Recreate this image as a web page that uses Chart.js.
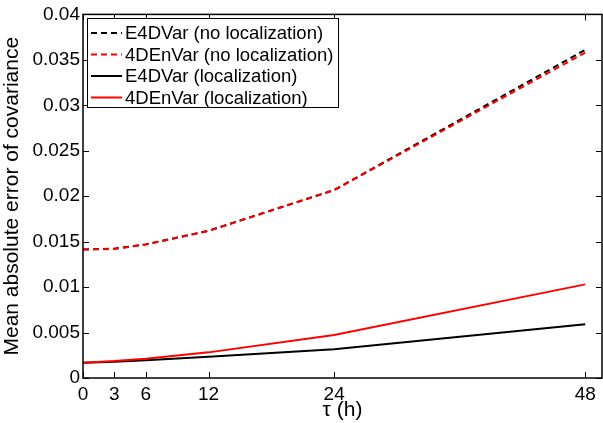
<!DOCTYPE html>
<html>
<head>
<meta charset="utf-8">
<script src="https://cdn.jsdelivr.net/npm/chart.js@4"></script>
<style>
  html, body { margin: 0; padding: 0; background: #fff; }
  #wrap { width: 603px; height: 423px; }
</style>
</head>
<body>
<div id="wrap"><canvas id="errChart" width="603" height="423"></canvas></div>
<script>
// lead times (h) and mean absolute error of covariance
const tau = [0, 3, 6, 12, 24, 48];
const xTicks = [0, 3, 6, 12, 24, 48];
const e4dvarNoLoc = [0.01415, 0.01422, 0.0147, 0.0162, 0.02068, 0.0361];
const enVarNoLoc = [0.01413, 0.0142, 0.01468, 0.01618, 0.02066, 0.0358];
const e4dvarLoc = [0.00168, 0.0018, 0.00194, 0.00234, 0.00315, 0.0059];
const enVarLoc = [0.00168, 0.00186, 0.00212, 0.00282, 0.00473, 0.0103];
const seriesNames = ['E4DVar (no localization)', '4DEnVar (no localization)', 'E4DVar (localization)', '4DEnVar (localization)'];

const FONT = "'Liberation Sans', Arial, sans-serif";

function pts(ys) {
    return tau.map((t, i) => ({ x: t, y: ys[i] }));
}

// MATLAB-like box with inward ticks + legend inside the plot
const boxPlugin = {
    id: 'boxPlugin',
    afterDraw(chart) {
        const ctx = chart.ctx;
        const a = chart.chartArea;
        const xs = chart.scales.x, ys = chart.scales.y;
        ctx.save();
        ctx.strokeStyle = '#000';
        ctx.lineWidth = 1.5;
        ctx.strokeRect(a.left, a.top, a.right - a.left, a.bottom - a.top);
        ctx.lineWidth = 1;
        ctx.beginPath();
        xTicks.forEach(v => {
            const px = Math.round(xs.getPixelForValue(v)) + 0.5;
            ctx.moveTo(px, a.bottom); ctx.lineTo(px, a.bottom - 6);
            ctx.moveTo(px, a.top); ctx.lineTo(px, a.top + 6);
        });
        ys.ticks.forEach(t => {
            const py = Math.round(ys.getPixelForValue(t.value)) + 0.5;
            ctx.moveTo(a.left, py); ctx.lineTo(a.left + 6, py);
            ctx.moveTo(a.right, py); ctx.lineTo(a.right - 6, py);
        });
        ctx.stroke();

        // legend
        const lx = 87, ly = 18, lw = 251, lh = 89;
        ctx.fillStyle = '#fff';
        ctx.fillRect(lx, ly, lw, lh);
        ctx.strokeRect(lx + 0.5, ly + 0.5, lw, lh);
        ctx.font = '18.5px ' + FONT;
        ctx.textBaseline = 'middle';
        chart.data.datasets.forEach((ds, i) => {
            const yy = ly + 15 + i * 21.5;
            ctx.beginPath();
            ctx.strokeStyle = ds.borderColor;
            ctx.lineWidth = 2;
            ctx.setLineDash(ds.borderDash || []);
            ctx.moveTo(lx + 4, yy);
            ctx.lineTo(lx + 35, yy);
            ctx.stroke();
            ctx.setLineDash([]);
            ctx.fillStyle = '#000';
            ctx.fillText(seriesNames[i], lx + 38, yy + 1);
        });
        ctx.restore();
    }
};

new Chart(document.getElementById('errChart'), {
    type: 'line',
    data: {
        datasets: [
            { data: pts(e4dvarNoLoc), borderColor: '#000000', borderDash: [6, 4], order: 4 },
            { data: pts(enVarNoLoc), borderColor: '#ff0000', borderDash: [6, 4], order: 3 },
            { data: pts(e4dvarLoc), borderColor: '#000000', order: 2 },
            { data: pts(enVarLoc), borderColor: '#ff0000', order: 1 }
        ]
    },
    options: {
        responsive: false,
        animation: false,
        layout: { padding: { top: 14, right: 1, left: 0, bottom: 0 } },
        elements: {
            point: { radius: 0 },
            line: { borderWidth: 2, tension: 0, fill: false }
        },
        plugins: {
            legend: { display: false },
            tooltip: { enabled: false }
        },
        scales: {
            x: {
                type: 'linear',
                min: 0,
                max: 49.6,
                afterBuildTicks: s => { s.ticks = xTicks.map(v => ({ value: v })); },
                afterFit: s => { s.height = 45; },
                grid: { drawOnChartArea: false, drawTicks: false },
                border: { display: false },
                ticks: {
                    color: '#000',
                    padding: 5,
                    maxRotation: 0,
                    font: { family: FONT, size: 19 }
                },
                title: {
                    display: true,
                    text: 'τ (h)',
                    color: '#000',
                    padding: { top: -6, bottom: 0 },
                    font: { family: FONT, size: 21 }
                }
            },
            y: {
                min: 0,
                max: 0.04,
                afterFit: s => { s.width = 83; },
                grid: { drawOnChartArea: false, drawTicks: false },
                border: { display: false },
                ticks: {
                    stepSize: 0.005,
                    color: '#000',
                    padding: 3,
                    font: { family: FONT, size: 19 },
                    callback: v => String(+v.toFixed(3))
                },
                title: {
                    display: true,
                    text: 'Mean absolute error of covariance',
                    color: '#000',
                    padding: { top: 0, bottom: 1 },
                    font: { family: FONT, size: 21 }
                }
            }
        }
    },
    plugins: [boxPlugin]
});
</script>
</body>
</html>
